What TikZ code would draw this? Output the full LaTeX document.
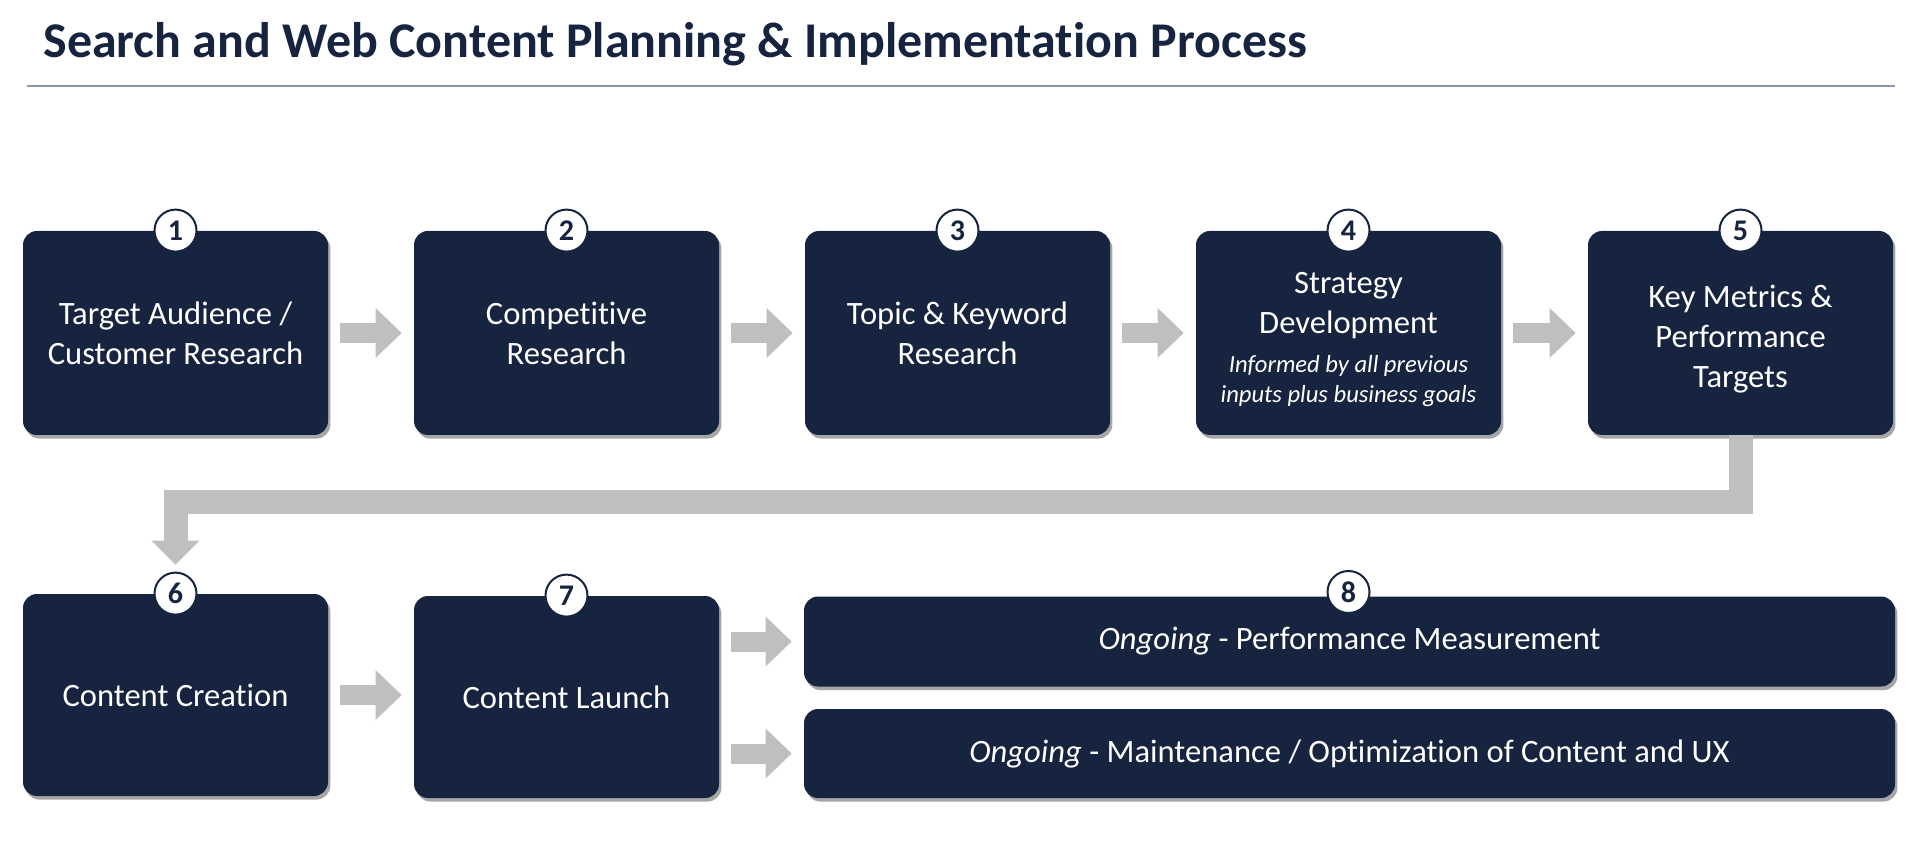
\documentclass[tikz,border=0pt]{standalone}
\usepackage{fontspec}
\setmainfont[Ligatures=NoCommon]{Carlito}
\usetikzlibrary{arrows.meta,shadows}
\definecolor{navy}{RGB}{22,36,64}
\definecolor{arrowgray}{RGB}{191,191,191}
\definecolor{rulecol}{RGB}{140,150,170}
\newcommand{\subit}[1]{{\fontsize{12.3}{14.7}\selectfont\itshape #1}}
\newcommand{\topstrut}{\rule{0pt}{17pt}}
\tikzset{
  box/.style={rectangle, rounded corners=7pt, fill=navy, text=white, align=center,
    inner sep=0pt, minimum width=152.5pt, minimum height=102pt,
    font=\fontsize{16.3}{20}\selectfont,
    drop shadow={shadow xshift=1.2pt, shadow yshift=-1.8pt, opacity=0.35, fill=black}},
  widebox/.style={box, minimum width=545.5pt, minimum height=45pt},
  num/.style={circle, draw=navy, line width=1pt, fill=white, text=navy,
    minimum size=21pt, inner sep=0pt, font=\bfseries\fontsize{15}{15}\selectfont},
  flow/.style={draw=arrowgray, line width=10pt,
    -{Triangle[length=13pt,width=25pt,line width=0pt]},
    shorten <=6pt, shorten >=6pt},
  bigflow/.style={draw=arrowgray, line width=12pt, line join=miter,
    -{Triangle[length=12pt,width=24pt,line width=0pt]}, shorten >=3.5pt},
}
\begin{document}
\begin{tikzpicture}[x=0.5pt,y=-0.5pt]
\useasboundingbox[fill=white] (0,0) rectangle (1920,865);
% title
\node[anchor=base west, inner sep=0pt, text=navy,
  font=\bfseries\fontsize{25}{30}\selectfont] (title) at (43,58)
  {Search and Web Content Planning \& Implementation Process};
\coordinate (rl) at (27,86);
\coordinate (rr) at (1895,86);
\draw[rulecol, line width=1pt] (rl) -- (rr);
% row 1
\node[box] (b1) at (175.5,333) {Target Audience /\\Customer Research};
\node[box] (b2) at (566.5,333) {Competitive\\Research};
\node[box] (b3) at (957.5,333) {Topic \& Keyword\\Research};
\node[box] (b4) at (1348.5,333) {\topstrut Strategy\\Development\\[-0.4pt]\subit{Informed by all previous}\\[-5.3pt]\subit{inputs plus business goals}};
\node[box] (b5) at (1740.5,333) {\topstrut Key Metrics \&\\Performance\\Targets};
% row 2
\node[box, minimum height=101pt] (b6) at (175.5,695) {Content Creation};
\node[box, minimum height=101pt] (b7) at (566.5,697) {Content Launch};
\node[widebox] (b8a) at (1349.5,641.5) {\textit{Ongoing} - Performance Measurement};
\node[widebox, minimum height=44.5pt] (b8b) at (1349.5,753.5) {\textit{Ongoing} - Maintenance / Optimization of Content and UX};
% numbers
\node[num] (c1) at (b1.north) {1};
\node[num] (c2) at (b2.north) {2};
\node[num] (c3) at (b3.north) {3};
\node[num] (c4) at (b4.north) {4};
\node[num] (c5) at (b5.north) {5};
\node[num] (c6) at (b6.north) {6};
\node[num] (c7) at (b7.north) {7};
\node[num] (c8) at (1348.5,592) {8};
% connectors
\draw[flow] (b1.east) -- (b2.west);
\draw[flow] (b2.east) -- (b3.west);
\draw[flow] (b3.east) -- (b4.west);
\draw[flow] (b4.east) -- (b5.west);
\draw[flow] (b6.east) -- (b6.east -| b7.west);
\draw[flow] (b7.east |- b8a.west) -- (b8a.west);
\draw[flow] (b7.east |- b8b.west) -- (b8b.west);
\draw[bigflow] (b5.south) -- ++(0,67) -| (c6.north);
\end{tikzpicture}
\end{document}
